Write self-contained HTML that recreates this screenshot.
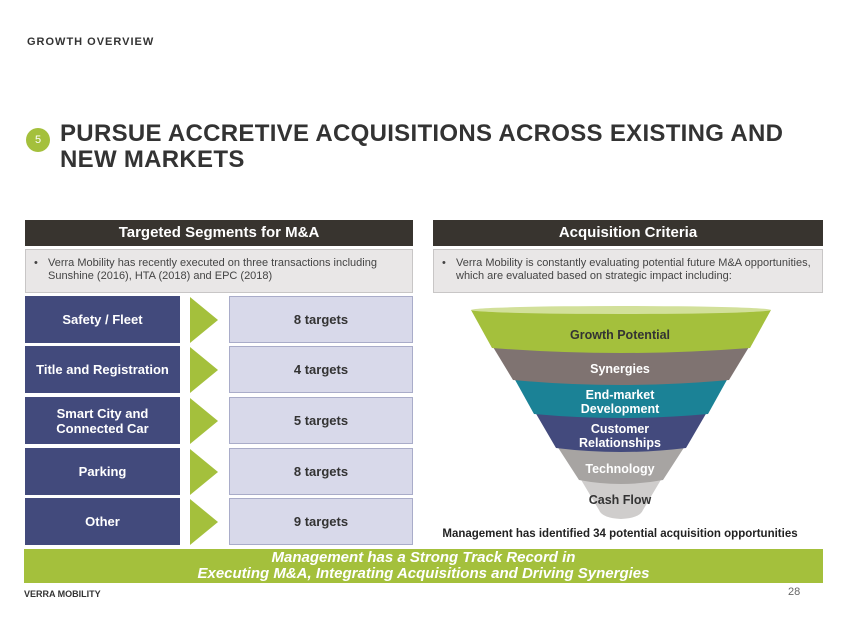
<!DOCTYPE html>
<html><head><meta charset="utf-8"><style>
body{margin:0;width:847px;height:635px;background:#fff;position:relative;overflow:hidden;font-family:"Liberation Sans",sans-serif;color:#333}
.a{position:absolute}
.hdr{background:#38342f;color:#fff;font-weight:bold;font-size:15px;text-align:center;line-height:26px;height:26px}
.gb{background:#e9e7e7;border:1px solid #c8c6c6;font-size:11px;line-height:12.5px;color:#444;box-sizing:border-box;padding:7px 8px 0 22px}
.gb:before{content:"•";position:absolute;left:8px;top:7px}
.bl{background:#424a7c;color:#fff;font-weight:bold;font-size:13px;display:flex;align-items:center;justify-content:center;text-align:center;left:25px;width:155px;height:47px}
.lt{background:#d8d9ea;border:1px solid #a9acc9;box-sizing:border-box;font-weight:bold;font-size:13px;color:#333;display:flex;align-items:center;justify-content:center;left:229px;width:184px;height:47px}
.ar{left:190px;width:0;height:0;border-top:23px solid transparent;border-bottom:23px solid transparent;border-left:28px solid #a4c03c}
</style></head><body>
<div class="a" style="left:27px;top:36px;font-size:11px;font-weight:bold;letter-spacing:1px;color:#333">GROWTH OVERVIEW</div>
<div class="a" style="left:26px;top:128px;width:24px;height:24px;border-radius:50%;background:#a4c03c;color:#fff;font-size:11px;text-align:center;line-height:24px">5</div>
<div class="a" style="left:60px;top:121px;font-size:24px;font-weight:bold;line-height:26px;color:#333;letter-spacing:0.3px">PURSUE ACCRETIVE ACQUISITIONS ACROSS EXISTING AND<br>NEW MARKETS</div>
<div class="a hdr" style="left:25px;top:220px;width:388px">Targeted Segments for M&amp;A</div>
<div class="a hdr" style="left:433px;top:220px;width:390px">Acquisition Criteria</div>
<div class="a gb" style="left:25px;top:249px;width:388px;height:44px">Verra Mobility has recently executed on three transactions including Sunshine (2016), HTA (2018) and EPC (2018)</div>
<div class="a gb" style="left:433px;top:249px;width:390px;height:44px">Verra Mobility is constantly evaluating potential future M&amp;A opportunities, which are evaluated based on strategic impact including:</div>

<div class="a bl" style="top:296px">Safety / Fleet</div><div class="a ar" style="top:297px"></div><div class="a lt" style="top:296px">8 targets</div>
<div class="a bl" style="top:346px">Title and Registration</div><div class="a ar" style="top:347px"></div><div class="a lt" style="top:346px">4 targets</div>
<div class="a bl" style="top:397px">Smart City and<br>Connected Car</div><div class="a ar" style="top:398px"></div><div class="a lt" style="top:397px">5 targets</div>
<div class="a bl" style="top:448px">Parking</div><div class="a ar" style="top:449px"></div><div class="a lt" style="top:448px">8 targets</div>
<div class="a bl" style="top:498px">Other</div><div class="a ar" style="top:499px"></div><div class="a lt" style="top:498px">9 targets</div>

<svg class="a" style="left:0;top:0" width="847" height="635" font-family="Liberation Sans, sans-serif" font-weight="bold" font-size="12.5" text-anchor="middle">
<path d="M580 478 L662 478 L643 510 Q640 518 621 519 Q602 518 599 510 Z" fill="#cfcdcc"/>
<path d="M557 446 L685 446 L663 480 Q621 488 579 480 Z" fill="#a7a4a2"/>
<path d="M535 412 L707 412 L686 448 Q621 456 556 448 Z" fill="#434a7d"/>
<path d="M514 378 L728 378 L708 414 Q621 422 534 414 Z" fill="#1b8296"/>
<path d="M493 347 L749 347 L729 380 Q621 390 513 380 Z" fill="#7f7371"/>
<path d="M471 310 L771 310 L750 348 Q621 358 492 348 Z" fill="#a4c03c"/>
<ellipse cx="621" cy="310" rx="150" ry="4" fill="#d2e09a"/>
<text x="620" y="339" fill="#333">Growth Potential</text>
<text x="620" y="373" fill="#fff">Synergies</text>
<text x="620" y="399" fill="#fff">End-market</text>
<text x="620" y="413" fill="#fff">Development</text>
<text x="620" y="433" fill="#fff">Customer</text>
<text x="620" y="447" fill="#fff">Relationships</text>
<text x="620" y="473" fill="#fff">Technology</text>
<text x="620" y="504" fill="#333">Cash Flow</text>
<text x="620" y="537" fill="#222" font-size="11.5">Management has identified 34 potential acquisition opportunities</text>
</svg>

<div class="a" style="left:24px;top:549px;width:799px;height:34px;background:#a4c03c;color:#fff;font-weight:bold;font-style:italic;font-size:15px;line-height:15.5px;text-align:center;padding-top:1px;box-sizing:border-box">Management has a Strong Track Record in<br>Executing M&amp;A, Integrating Acquisitions and Driving Synergies</div>
<div class="a" style="left:24px;top:589px;font-size:9px;font-weight:bold;color:#333">VERRA MOBILITY</div>
<div class="a" style="left:788px;top:586px;font-size:11px;color:#666">28</div>
</body></html>
